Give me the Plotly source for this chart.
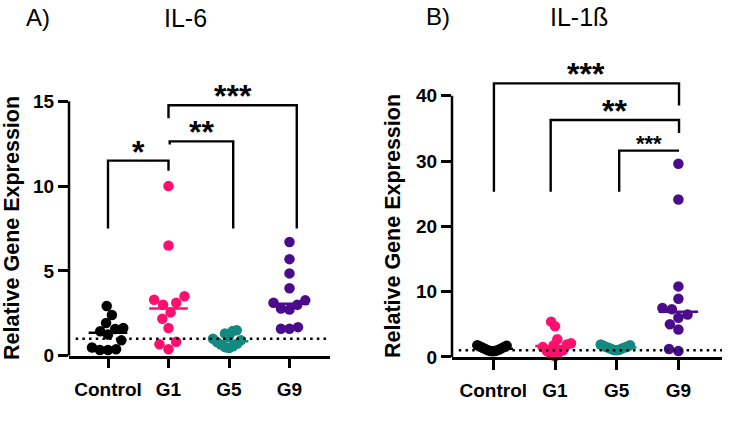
import numpy as np
import plotly.graph_objects as go

# ---------------- data ----------------
categories = ["Control", "G1", "G5", "G9"]
colors = ["#000000", "#FF0F6E", "#138A80", "#4B0C8C"]

il6_control = [2.93, 2.4, 1.92, 1.63, 1.57, 1.44, 1.25, 0.9, 0.48, 0.38, 0.33, 0.33]
il6_g1 = [10.0, 6.5, 3.5, 3.3, 3.12, 3.0, 2.55, 2.17, 1.63, 0.82, 0.67, 0.38]
il6_g5 = [1.5, 1.45, 1.3, 1.15, 1.0, 0.9, 0.8, 0.7, 0.65, 0.55, 0.5, 0.45]
il6_g9 = [6.7, 5.69, 4.85, 3.97, 3.26, 3.12, 3.0, 2.78, 2.72, 1.68, 1.59, 1.59]

il1b_control = [1.8, 1.7, 1.6, 1.5, 1.4, 1.3, 1.2, 1.1, 1.0, 0.95, 0.9, 0.85]
il1b_g1 = [5.4, 4.7, 2.7, 2.1, 1.9, 1.8, 1.5, 1.0, 0.9, 0.7, 0.3, 0.1]
il1b_g5 = [1.9, 1.8, 1.7, 1.6, 1.5, 1.45, 1.4, 1.3, 1.2, 1.1, 1.05, 1.0]
il1b_g9 = [29.6, 24.1, 10.8, 8.9, 7.5, 7.3, 6.5, 6.0, 5.0, 4.2, 1.2, 0.9]

il6_ticks = [0, 5, 10, 15]
il1b_ticks = [0, 10, 20, 30, 40]
reference_level = 1
y_title = "Relative Gene Expression"

# significance brackets: label, left x, right x, bar height, left leg bottom, right leg bottom, font size
il6_brackets = [
    ("*", 0.0, 1.0, 11.5, 7.5, 10.9, 32),
    ("**", 1.02, 2.07, 12.64, 12.45, 7.5, 32),
    ("***", 1.0, 3.12, 14.77, 14.0, 7.5, 32),
]
il1b_brackets = [
    ("***", 0.01, 3.01, 41.9, 25.3, 38.5, 32),
    ("**", 0.93, 3.01, 36.3, 25.3, 34.3, 32),
    ("***", 2.04, 3.01, 31.6, 25.3, 31.6, 22),
]

# ---------------- layout geometry (pixels) ----------------
W, H = 750, 428
panels = [
    dict(groups=[il6_control, il6_g1, il6_g5, il6_g9], ticks=il6_ticks, top=16.5,
         axis_left=69, axis_right=330, y0px=365, y_tick_top_px=104, cat0px=108, catstep=60.5,
         brackets=il6_brackets, letter="A)", title="IL-6",
         letter_px=(38, 18), title_px=(185, 18), ytitle_px=(12, 234)),
    dict(groups=[il1b_control, il1b_g1, il1b_g5, il1b_g9], ticks=il1b_ticks, top=46,
         axis_left=452, axis_right=722, y0px=366.3, y_tick_top_px=98.3, cat0px=493.3, catstep=61.7,
         brackets=il1b_brackets, letter="B)", title="IL-1ß",
         letter_px=(438, 17), title_px=(579, 17), ytitle_px=(393, 232)),
]

DIAM = 10.5      # marker diameter (px)
COLL = 12.0      # collision distance for swarm (px)
MAXHALF = 16.0   # max half width of swarm (px)
FONT = "Arial, Liberation Sans"


def swarm_offsets(vals, py_per_unit):
    vals = np.asarray(vals, float)
    ys = vals * py_per_unit
    order = np.argsort(vals)
    placed = []
    offs = np.zeros(len(vals))
    for i in order:
        y = ys[i]
        cands = [0.0]
        for (xj, yj) in placed:
            dy = abs(yj - y)
            if dy < COLL:
                dx = np.sqrt(COLL ** 2 - dy ** 2)
                cands += [xj + dx, xj - dx]
        cands.sort(key=lambda c: (abs(c), c))
        for c in cands:
            if all((c - xj) ** 2 + (y - yj) ** 2 >= COLL ** 2 - 1e-6 for xj, yj in placed):
                offs[i] = c
                placed.append((c, y))
                break
    m = np.max(np.abs(offs))
    if m > MAXHALF:
        offs *= MAXHALF / m
    return offs


fig = go.Figure()
layout_axes = {}
shapes = []
annotations = []
tickfont = dict(family=FONT, size=19, color="black", weight="bold")

for k, p in enumerate(panels):
    xa = "x" if k == 0 else "x2"
    ya = "y" if k == 0 else "y2"
    tick_top = p["ticks"][-1]
    py_per_unit = (p["y0px"] - p["y_tick_top_px"]) / tick_top
    top_px = p["y0px"] - p["top"] * py_per_unit
    xmin = (p["axis_left"] - p["cat0px"]) / p["catstep"]
    xmax = (p["axis_right"] - p["cat0px"]) / p["catstep"]
    xdom = [p["axis_left"] / W, p["axis_right"] / W]
    ydom = [(H - p["y0px"]) / H, (H - top_px) / H]

    # data points + medians
    for gi, vals in enumerate(p["groups"]):
        offs = swarm_offsets(vals, py_per_unit) / p["catstep"]
        fig.add_trace(go.Scatter(
            x=gi + offs, y=vals, mode="markers", xaxis=xa, yaxis=ya,
            marker=dict(size=DIAM, color=colors[gi], line=dict(width=0)),
            cliponaxis=False, showlegend=False, hoverinfo="skip"))
        med = float(np.median(vals))
        fig.add_trace(go.Scatter(
            x=[gi - 0.32, gi + 0.32], y=[med, med], mode="lines", xaxis=xa, yaxis=ya,
            line=dict(color=colors[gi], width=2.5), showlegend=False, hoverinfo="skip"))

    # dotted reference line
    fig.add_trace(go.Scatter(
        x=[xmin + 0.11, xmax], y=[reference_level, reference_level], mode="lines",
        xaxis=xa, yaxis=ya, line=dict(color="black", width=2.5, dash="2.5px,4.2px"),
        showlegend=False, hoverinfo="skip"))

    # brackets
    for (lab, x0, x1, yb, yl, yr, fs) in p["brackets"]:
        fig.add_trace(go.Scatter(
            x=[x0, x0, x1, x1], y=[yl, yb, yb, yr], mode="lines", xaxis=xa, yaxis=ya,
            line=dict(color="black", width=2.4), showlegend=False, hoverinfo="skip"))
        annotations.append(dict(
            x=(x0 + x1) / 2, y=yb, xref=xa, yref=ya, text=lab, showarrow=False,
            yanchor="middle", yshift=9 if fs > 24 else 7,
            font=dict(family=FONT, size=fs, color="black", weight="bold")))

    # y axis line only up to the top tick
    shapes.append(dict(type="line", xref=f"{xa} domain", yref=f"{ya} domain",
                       x0=0, x1=0, y0=0, y1=tick_top / p["top"],
                       line=dict(color="black", width=2.5)))

    # panel letters, titles, y titles
    annotations.append(dict(x=p["letter_px"][0] / W, y=(H - p["letter_px"][1]) / H, xref="paper",
                            yref="paper", text=p["letter"], showarrow=False, xanchor="center",
                            yanchor="middle", font=dict(family=FONT, size=24, color="black")))
    annotations.append(dict(x=p["title_px"][0] / W, y=(H - p["title_px"][1]) / H, xref="paper",
                            yref="paper", text=p["title"], showarrow=False, xanchor="center",
                            yanchor="middle", font=dict(family=FONT, size=25, color="black")))
    annotations.append(dict(x=p["ytitle_px"][0] / W, y=(H - p["ytitle_px"][1]) / H, xref="paper",
                            yref="paper", text=y_title, showarrow=False, xanchor="center",
                            yanchor="middle", textangle=-90,
                            font=dict(family=FONT, size=21.5, color="black", weight="bold")))

    layout_axes["xaxis" if k == 0 else "xaxis2"] = dict(
        domain=xdom, range=[xmin, xmax], anchor=ya, tickvals=[0, 1, 2, 3], ticktext=categories,
        ticks="outside", ticklen=10, tickwidth=2.5, tickcolor="black", showline=True,
        linewidth=2.5, linecolor="black", showgrid=False, zeroline=False, tickfont=tickfont,
        ticklabelstandoff=5)
    layout_axes["yaxis" if k == 0 else "yaxis2"] = dict(
        domain=ydom, range=[0, p["top"]], anchor=xa, tickvals=p["ticks"],
        ticks="outside", ticklen=10, tickwidth=2.5, tickcolor="black", showline=False,
        showgrid=False, zeroline=False, tickfont=tickfont)

fig.update_layout(width=W, height=H, margin=dict(l=0, r=0, t=0, b=0),
                  plot_bgcolor="white", paper_bgcolor="white",
                  shapes=shapes, annotations=annotations, **layout_axes)
fig.write_html("out.html")
